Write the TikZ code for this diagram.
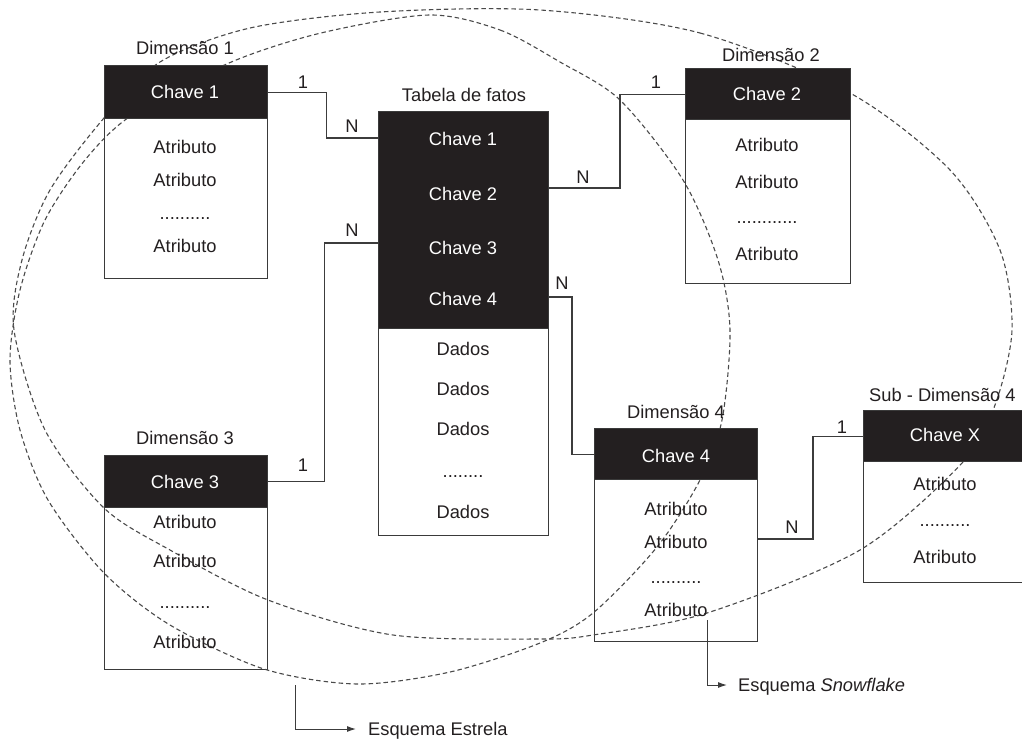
\documentclass[tikz,border=0pt]{standalone}
\usepackage{fontspec}
\setmainfont{Liberation Sans}
\usetikzlibrary{arrows.meta,calc}
\definecolor{darkc}{HTML}{231F20}
\definecolor{boxc}{HTML}{3A3A3A}
\definecolor{txtc}{HTML}{231F20}
\definecolor{connc}{HTML}{3C3C3C}
\definecolor{ellc}{HTML}{4A4A4A}
\begin{document}
\begin{tikzpicture}[x=1pt,y=-1pt,
  every node/.style={font=\fontsize{18.3}{21}\selectfont, inner sep=0pt},
  hdr/.style={draw=boxc, fill=darkc, line width=1.4pt, anchor=north west},
  body/.style={draw=boxc, fill=white, line width=1.4pt, anchor=north west},
  txt/.style={text height=13pt, text depth=0pt, text=txtc},
  key/.style={text height=13pt, text depth=0pt, text=white},
  dotl/.style={anchor=base, text=txtc},
  conn/.style={draw=connc, line width=1.3pt},
  ell/.style={draw=ellc, line width=1.1pt, dash pattern=on 4.5pt off 3pt},
  arr/.style={draw=connc, line width=1pt, -{Latex[length=9pt,width=6pt]}}
]
\useasboundingbox (0,0) rectangle (1022,742);
\clip (0,0) rectangle (1022,742);

% bodies
\node[body, minimum width=163pt, minimum height=160pt] (d1b) at (104,118) {};
\node[body, minimum width=170pt, minimum height=207pt] (fb) at (378,328) {};
\node[body, minimum width=165pt, minimum height=164pt] (d2b) at (685,119) {};
\node[body, minimum width=163pt, minimum height=162pt] (d3b) at (104,507) {};
\node[body, minimum width=163pt, minimum height=162pt] (d4b) at (594,479) {};
\node[body, minimum width=165pt, minimum height=121pt] (sb) at (863,461) {};

% ellipses
\draw[ell] plot[smooth cycle] coordinates {(540,10) (700,33) (850,93) (950,170) (1000,250) (1012,330) (995,405) (963,462) (860,550) (707,613) (593,635) (540,639) (393,635) (268,600) (170,550) (104,508) (45,430) (14,330) (22,260) (50,190) (104,118) (160,62) (250,28) (380,12)};
\draw[ell] plot[smooth cycle] coordinates {(429,15) (500,30) (560,62) (620,100) (683,180) (718,260) (730,330) (722,420) (700,480) (657,547) (593,613) (540,643) (450,672) (357,684) (264,669) (170,625) (104,573) (48,500) (20,430) (10,360) (20,290) (45,220) (85,160) (132,115) (229,63) (321,33)};

% headers
\node[hdr, minimum width=163pt, minimum height=53pt] (d1h) at (104,65) {};
\node[hdr, minimum width=170pt, minimum height=217pt] (fh) at (378,111) {};
\node[hdr, minimum width=165pt, minimum height=51pt] (d2h) at (685,68) {};
\node[hdr, minimum width=163pt, minimum height=52pt] (d3h) at (104,455) {};
\node[hdr, minimum width=163pt, minimum height=51pt] (d4h) at (594,428) {};
\node[hdr, minimum width=165pt, minimum height=51pt] (sh) at (863,410) {};

% titles
\node[txt] (t1) at (185,48) {Dimensão 1};
\node[txt] (tf) at (464,95) {Tabela de fatos};
\node[txt] (t2) at (771,55) {Dimensão 2};
\node[txt] (t3) at (185,438) {Dimensão 3};
\node[txt] (t4) at (676,412) {Dimensão 4};
\node[txt, anchor=west] (ts) at (869,395) {Sub - Dimensão 4};

% Dimensao 1
\node[key] (k1) at (185,92) {Chave 1};
\node[txt] (a11) at (185,147) {Atributo};
\node[txt] (a12) at (185,180) {Atributo};
\node[dotl] (a13) at (185,219) {..........};
\node[txt] (a14) at (185,246) {Atributo};

% Fact table
\node[key] (fk1) at (463,139) {Chave 1};
\node[key] (fk2) at (463,194) {Chave 2};
\node[key] (fk3) at (463,248) {Chave 3};
\node[key] (fk4) at (463,299) {Chave 4};
\node[txt] (fd1) at (463,349) {Dados};
\node[txt] (fd2) at (463,389) {Dados};
\node[txt] (fd3) at (463,429) {Dados};
\node[dotl] (fd4) at (463,477) {........};
\node[txt] (fd5) at (463,512) {Dados};

% Dimensao 2
\node[key] (k2) at (767,94) {Chave 2};
\node[txt] (a21) at (767,145) {Atributo};
\node[txt] (a22) at (767,182) {Atributo};
\node[dotl] (a23) at (767,223) {............};
\node[txt] (a24) at (767,254) {Atributo};

% Dimensao 3
\node[key] (k3) at (185,482) {Chave 3};
\node[txt] (a31) at (185,522) {Atributo};
\node[txt] (a32) at (185,561) {Atributo};
\node[dotl] (a33) at (185,608) {..........};
\node[txt] (a34) at (185,642) {Atributo};

% Dimensao 4
\node[key] (k4) at (676,456) {Chave 4};
\node[txt] (a41) at (676,509) {Atributo};
\node[txt] (a42) at (676,542) {Atributo};
\node[dotl] (a43) at (676,583) {..........};
\node[txt] (a44) at (676,610) {Atributo};

% Sub-dimensao
\node[key] (kx) at (945,435) {Chave X};
\node[txt] (s1) at (945,484) {Atributo};
\node[dotl] (s2) at (945,526) {..........};
\node[txt] (s3) at (945,557) {Atributo};

% ports
\coordinate (fp1) at (378,138);
\coordinate (fp2) at (548,188);
\coordinate (fp3) at (378,243);
\coordinate (fp4) at (548,297);
\coordinate (d4p) at (757,539);

% connectors
\draw[conn] (d1h.east) -- ++(58,0) |- (fp1);
\draw[conn] (fp2) -- ++(72,0) |- (d2h.west);
\draw[conn] (d3h.east) -- ++(56,0) |- (fp3);
\draw[conn] (fp4) -- ++(24,0) |- (d4h.west);
\draw[conn] (d4p) -- ++(56,0) |- (sh.west);

% cardinalities
\node[txt] (c11) at (303,82) {1};
\node[txt] (c1n) at (352,126) {N};
\node[txt] (c2n) at (583,177) {N};
\node[txt] (c21) at (656,82) {1};
\node[txt] (c3n) at (352,230) {N};
\node[txt] (c31) at (303,465) {1};
\node[txt] (c4n) at (562,283) {N};
\node[txt] (c5n) at (792,527) {N};
\node[txt] (c51) at (842,427) {1};

% schema labels
\coordinate (es) at (295,685);
\node[txt, anchor=west] (estrela) at (368,729) {Esquema Estrela};
\draw[arr, shorten >=12pt] (es) |- (estrela.west);
\coordinate (ss) at (707,620);
\node[txt, anchor=west] (snow) at (738,685) {Esquema \textit{Snowflake}};
\draw[arr, shorten >=11pt] (ss) |- (snow.west);
\end{tikzpicture}
\end{document}
